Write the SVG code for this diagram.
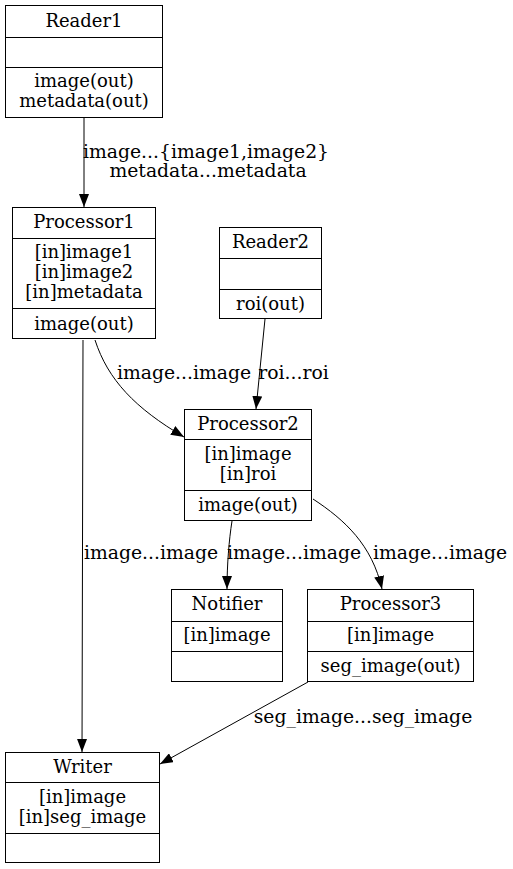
<svg xmlns="http://www.w3.org/2000/svg" width="513" height="869" viewBox="0 0 513 869">
<defs>
<style>
.box{fill:#fff;stroke:#000;stroke-width:1}
.ln{stroke:#000;stroke-width:1}
text{font-family:"DejaVu Serif",serif;font-size:18px;fill:#000;text-anchor:middle}
.lbl{font-size:18.8px}
.e{fill:none;stroke:#000;stroke-width:1}
</style>
<marker id="ah" viewBox="0 0 13 10" refX="13" refY="5" markerWidth="13" markerHeight="10" markerUnits="userSpaceOnUse" orient="auto">
<path d="M0,0 L13,5 L0,10 Z" fill="#000"/>
</marker>
</defs>
<rect width="513" height="869" fill="#fff"/>
<g id="edges">
<g id="e1"><path class="e" d="M84,118 L84,207" marker-end="url(#ah)"/>
<text class="lbl" x="206" y="158">image...{image1,image2}</text><text class="lbl" x="208" y="177">metadata...metadata</text></g>
<g id="e2"><path class="e" d="M95,340 C108,380 135,408 184,437" marker-end="url(#ah)"/>
<text class="lbl" x="184" y="379">image...image</text></g>
<g id="e3"><path class="e" d="M265,319 L256,409" marker-end="url(#ah)"/>
<text class="lbl" x="293.5" y="379">roi...roi</text></g>
<g id="e4"><path class="e" d="M83,340 L82,752" marker-end="url(#ah)"/>
<text class="lbl" x="151" y="559">image...image</text></g>
<g id="e5"><path class="e" d="M232,521 C229,540 227,565 227,589" marker-end="url(#ah)"/>
<text class="lbl" x="294" y="559">image...image</text></g>
<g id="e6"><path class="e" d="M313,499 C345,520 372,545 382,589" marker-end="url(#ah)"/>
<text class="lbl" x="440" y="559">image...image</text></g>
<g id="e7"><path class="e" d="M308,682 L160,764" marker-end="url(#ah)"/>
<text class="lbl" x="363" y="723">seg_image...seg_image</text></g>
</g>
<g id="Reader1">
<rect class="box" x="5.5" y="5.5" width="157" height="112"/>
<line class="ln" x1="5.5" y1="37.5" x2="162.5" y2="37.5"/>
<line class="ln" x1="5.5" y1="67.5" x2="162.5" y2="67.5"/>
<text x="84" y="27">Reader1</text>
<text x="84" y="87">image(out)</text>
<text x="84" y="107">metadata(out)</text>
</g>
<g id="Processor1">
<rect class="box" x="12.5" y="207.5" width="143" height="131"/>
<line class="ln" x1="12.5" y1="238.5" x2="155.5" y2="238.5"/>
<line class="ln" x1="12.5" y1="308.5" x2="155.5" y2="308.5"/>
<text x="84" y="228">Processor1</text>
<text x="84" y="258">[in]image1</text>
<text x="84" y="278">[in]image2</text>
<text x="84" y="298">[in]metadata</text>
<text x="84" y="330">image(out)</text>
</g>
<g id="Reader2">
<rect class="box" x="219.5" y="227.5" width="102" height="91"/>
<line class="ln" x1="219.5" y1="258.5" x2="321.5" y2="258.5"/>
<line class="ln" x1="219.5" y1="289.5" x2="321.5" y2="289.5"/>
<text x="270.5" y="248">Reader2</text>
<text x="270.5" y="310">roi(out)</text>
</g>
<g id="Processor2">
<rect class="box" x="184.5" y="409.5" width="127" height="111"/>
<line class="ln" x1="184.5" y1="439.5" x2="311.5" y2="439.5"/>
<line class="ln" x1="184.5" y1="490.5" x2="311.5" y2="490.5"/>
<text x="248" y="430">Processor2</text>
<text x="248" y="460">[in]image</text>
<text x="248" y="480">[in]roi</text>
<text x="248" y="511">image(out)</text>
</g>
<g id="Notifier">
<rect class="box" x="171.5" y="589.5" width="111" height="92"/>
<line class="ln" x1="171.5" y1="621.5" x2="282.5" y2="621.5"/>
<line class="ln" x1="171.5" y1="651.5" x2="282.5" y2="651.5"/>
<text x="227" y="610">Notifier</text>
<text x="227" y="641">[in]image</text>
</g>
<g id="Processor3">
<rect class="box" x="307.5" y="589.5" width="166" height="92"/>
<line class="ln" x1="307.5" y1="621.5" x2="473.5" y2="621.5"/>
<line class="ln" x1="307.5" y1="651.5" x2="473.5" y2="651.5"/>
<text x="390.5" y="610">Processor3</text>
<text x="390.5" y="641">[in]image</text>
<text x="390.5" y="672">seg_image(out)</text>
</g>
<g id="Writer">
<rect class="box" x="5.5" y="752.5" width="154" height="110"/>
<line class="ln" x1="5.5" y1="782.5" x2="159.5" y2="782.5"/>
<line class="ln" x1="5.5" y1="833.5" x2="159.5" y2="833.5"/>
<text x="82.5" y="773">Writer</text>
<text x="82.5" y="803">[in]image</text>
<text x="82.5" y="823">[in]seg_image</text>
</g>
</svg>
